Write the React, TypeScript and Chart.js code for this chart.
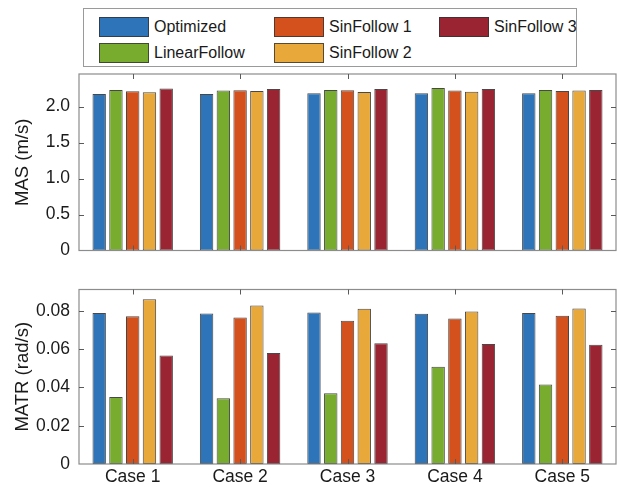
import React, { useEffect, useRef } from "react";
import { Chart, registerables } from "chart.js";

Chart.register(...registerables);

const categories = ["Case 1", "Case 2", "Case 3", "Case 4", "Case 5"];
const seriesNames = ["Optimized", "LinearFollow", "SinFollow 1", "SinFollow 2", "SinFollow 3"];
const seriesColors = ["#2E74B8", "#78AC2F", "#D4501C", "#E9A83A", "#9A2431"];

const masOptimized = [2.176, 2.176, 2.185, 2.185, 2.185];
const masLinearFollow = [2.231, 2.222, 2.231, 2.259, 2.231];
const masSinFollow1 = [2.213, 2.227, 2.227, 2.222, 2.217];
const masSinFollow2 = [2.199, 2.218, 2.204, 2.208, 2.222];
const masSinFollow3 = [2.25, 2.245, 2.245, 2.245, 2.231];

const matrOptimized = [0.0788, 0.0786, 0.0791, 0.0784, 0.0788];
const matrLinearFollow = [0.035, 0.0343, 0.0369, 0.0508, 0.0415];
const matrSinFollow1 = [0.0771, 0.0765, 0.0748, 0.076, 0.0774];
const matrSinFollow2 = [0.086, 0.0827, 0.081, 0.0796, 0.0812];
const matrSinFollow3 = [0.0567, 0.0579, 0.0631, 0.0627, 0.0622];

const masTicks = [0, 0.5, 1, 1.5, 2];
const masTickLabels = ["0", "0.5", "1.0", "1.5", "2.0"];
const matrTicks = [0, 0.02, 0.04, 0.06, 0.08];
const matrTickLabels = ["0", "0.02", "0.04", "0.06", "0.08"];

const masSeries = [masOptimized, masLinearFollow, masSinFollow1, masSinFollow2, masSinFollow3];
const matrSeries = [matrOptimized, matrLinearFollow, matrSinFollow1, matrSinFollow2, matrSinFollow3];

const FONT = "'Liberation Sans', Arial, Helvetica, sans-serif";

const framePlugin = {
  id: "matlabFrame",
  afterDatasetsDraw(chart: any) {
    const { ctx, chartArea } = chart;
    const xs = chart.scales.x;
    const ys = chart.scales.y;
    const { left, right, top, bottom } = chartArea;
    ctx.save();
    ctx.strokeStyle = "#8c8c8c";
    ctx.lineWidth = 1.2;
    ctx.strokeRect(left, top, right - left, bottom - top);
    ctx.strokeStyle = "#5a5a5a";
    ctx.lineWidth = 1;
    const tl = 5;
    ctx.beginPath();
    for (let i = 0; i < xs.ticks.length; i++) {
      const px = Math.round(xs.getPixelForTick(i)) + 0.5;
      ctx.moveTo(px, bottom);
      ctx.lineTo(px, bottom - tl);
      ctx.moveTo(px, top);
      ctx.lineTo(px, top + tl);
    }
    for (let i = 0; i < ys.ticks.length; i++) {
      const v = ys.ticks[i].value;
      if (v === 0) continue;
      const py = Math.round(ys.getPixelForValue(v)) + 0.5;
      ctx.moveTo(left, py);
      ctx.lineTo(left + tl, py);
      ctx.moveTo(right, py);
      ctx.lineTo(right - tl, py);
    }
    ctx.stroke();
    ctx.restore();
  },
};

function makeConfig(
  series: number[][],
  yMax: number,
  tickValues: number[],
  tickLabels: string[],
  title: string,
  showX: boolean,
  padTop: number,
  xHeight: number
): any {
  return {
    type: "bar",
    data: {
      labels: categories,
      datasets: series.map((values, i) => ({
        label: seriesNames[i],
        data: values,
        backgroundColor: seriesColors[i],
        borderColor: "rgba(40,40,40,0.85)",
        borderWidth: 1,
        borderSkipped: false,
        categoryPercentage: 0.78,
        barPercentage: 0.8,
      })),
    },
    options: {
      responsive: false,
      animation: false,
      events: [],
      layout: { padding: { top: padTop, right: 2, left: 0, bottom: 0 } },
      plugins: { legend: { display: false }, tooltip: { enabled: false } },
      scales: {
        x: {
          type: "category",
          offset: true,
          grid: { display: false, drawTicks: false },
          border: { display: false },
          ticks: {
            display: showX,
            padding: 3,
            color: "#1a1a1a",
            font: { family: FONT, size: 17.5 },
            maxRotation: 0,
            autoSkip: false,
          },
          afterFit(scale: any) {
            scale.height = xHeight;
          },
        },
        y: {
          type: "linear",
          min: 0,
          max: yMax,
          grid: { display: false, drawTicks: false },
          border: { display: false },
          afterBuildTicks(scale: any) {
            scale.ticks = tickValues.map((v) => ({ value: v }));
          },
          ticks: {
            padding: 9,
            color: "#1a1a1a",
            font: { family: FONT, size: 17.5 },
            callback(value: number) {
              const idx = tickValues.findIndex((t) => Math.abs(t - value) < 1e-9);
              return idx >= 0 ? tickLabels[idx] : "";
            },
          },
          title: {
            display: true,
            text: title,
            color: "#1a1a1a",
            font: { family: FONT, size: 18.5, lineHeight: 1.2 },
            padding: { top: 12, bottom: 0 },
          },
          afterFit(scale: any) {
            scale.width = 79;
          },
        },
      },
    },
    plugins: [framePlugin],
  };
}

function Legend() {
  const colLeft = [98, 273, 438];
  const rowTop = [16, 42];
  return (
    <div
      style={{
        position: "absolute",
        left: 83,
        top: 8,
        width: 494,
        height: 59,
        border: "1.2px solid #9a9a9a",
        background: "#fff",
        boxSizing: "border-box",
      }}
    >
      {seriesNames.map((name, i) => {
        const col = Math.floor(i / 2);
        const row = i % 2;
        return (
          <div
            key={name}
            style={{
              position: "absolute",
              left: colLeft[col] - 83,
              top: rowTop[row] - 8,
              height: 20,
              display: "flex",
              alignItems: "center",
              whiteSpace: "nowrap",
            }}
          >
            <div
              style={{
                width: 50,
                height: 20,
                background: seriesColors[i],
                border: "1px solid rgba(50,50,50,0.8)",
                boxSizing: "border-box",
              }}
            />
            <span
              style={{
                marginLeft: 5,
                fontFamily: FONT,
                fontSize: 16,
                color: "#1a1a1a",
                lineHeight: "20px",
              }}
            >
              {name}
            </span>
          </div>
        );
      })}
    </div>
  );
}

export default function App() {
  const topRef = useRef<HTMLCanvasElement>(null);
  const botRef = useRef<HTMLCanvasElement>(null);

  useEffect(() => {
    const c1 = new Chart(
      topRef.current as HTMLCanvasElement,
      makeConfig(masSeries, 2.453, masTicks, masTickLabels, "MAS (m/s)", false, 74, 19)
    );
    const c2 = new Chart(
      botRef.current as HTMLCanvasElement,
      makeConfig(matrSeries, 0.0911, matrTicks, matrTickLabels, "MATR (rad/s)", true, 18, 23)
    );
    return () => {
      c1.destroy();
      c2.destroy();
    };
  }, []);

  return (
    <div style={{ position: "absolute", left: 0, top: 0, width: 618, height: 487, background: "#fff" }}>
      <canvas ref={topRef} width={618} height={270} style={{ position: "absolute", left: 0, top: 0 }} />
      <canvas ref={botRef} width={618} height={217} style={{ position: "absolute", left: 0, top: 270 }} />
      <Legend />
    </div>
  );
}
